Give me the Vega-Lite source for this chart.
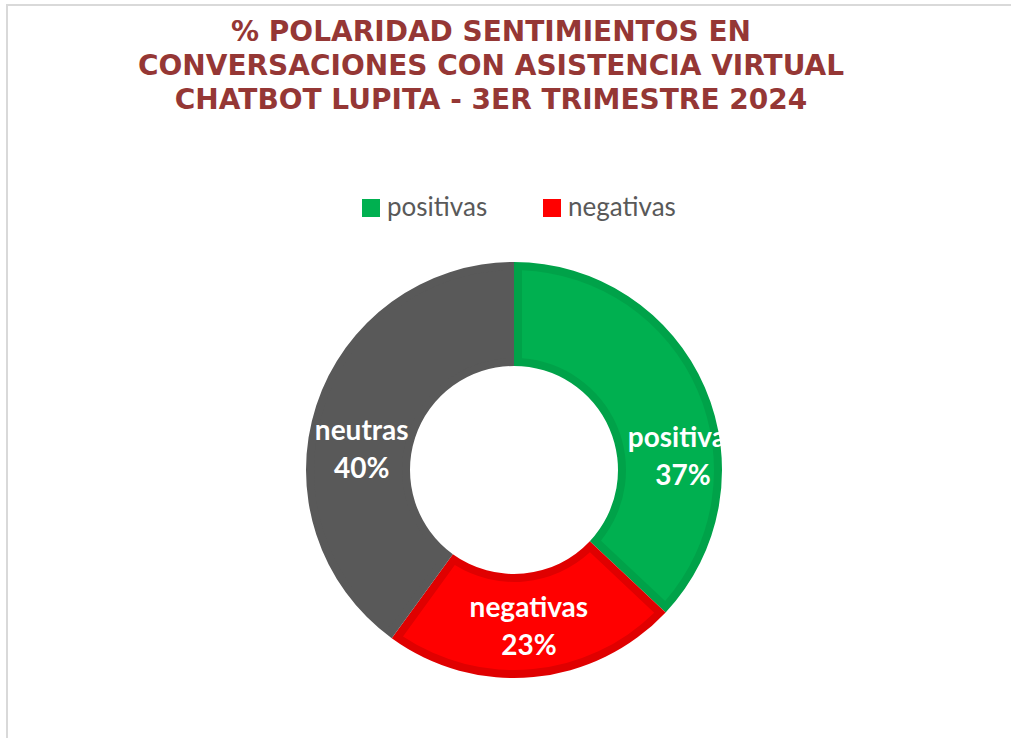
{
  "$schema": "https://vega.github.io/schema/vega-lite/v6.json",
  "width": 1014,
  "height": 930,
  "autosize": {"type": "none"},
  "padding": {"left": 7, "top": 5, "right": -10, "bottom": -197},
  "background": "white",
  "view": {"stroke": "#d9d9d9", "strokeWidth": 2, "fill": "white"},
  "title": {
    "text": ["% POLARIDAD SENTIMIENTOS EN", "CONVERSACIONES CON ASISTENCIA VIRTUAL", "CHATBOT LUPITA  - 3ER TRIMESTRE 2024"],
    "orient": "top",
    "anchor": "middle",
    "frame": "group",
    "offset": -110,
    "dx": -23,
    "font": "DejaVu Sans",
    "fontSize": 28,
    "fontWeight": "bold",
    "color": "#953735",
    "lineHeight": 34
  },
  "config": {
    "view": {"stroke": "#d9d9d9", "strokeWidth": 2},
    "style": {"view": {"stroke": "#d9d9d9", "strokeWidth": 2}}
  },
  "data": {
    "values": [
      {"cat": "positivas", "pct": 0.37, "orden": 1},
      {"cat": "negativas", "pct": 0.23, "orden": 2},
      {"cat": "neutras", "pct": 0.40, "orden": 3}
    ]
  },
  "encoding": {
    "theta": {"field": "pct", "type": "quantitative", "stack": true},
    "order": {"field": "orden", "type": "quantitative"}
  },
  "layer": [
    {
      "mark": {"type": "arc", "outerRadius": 208, "innerRadius": 104},
      "encoding": {
        "color": {
          "field": "cat",
          "type": "nominal",
          "scale": {"domain": ["positivas", "negativas", "neutras"], "range": ["#00a249", "#e00000", "#595959"]},
          "legend": null
        }
      }
    },
    {
      "mark": {"type": "arc", "outerRadius": 200, "innerRadius": 112, "padAngle": 0.07},
      "encoding": {
        "color": {
          "field": "cat",
          "type": "nominal",
          "scale": {"domain": ["positivas", "negativas", "neutras"], "range": ["#00b050", "#ff0000", "#595959"]},
          "legend": {
            "title": null,
            "values": ["positivas", "negativas"],
            "orient": "none",
            "direction": "horizontal",
            "legendX": 351,
            "legendY": 190,
            "padding": 0,
            "symbolType": "square",
            "symbolSize": 324,
            "symbolStrokeWidth": 0,
            "labelFont": "Lato",
            "labelFontSize": 26,
            "labelColor": "#595959",
            "labelOffset": 3,
            "columnPadding": 51
          }
        }
      }
    },
    {
      "mark": {
        "type": "text",
        "radius": 158,
        "font": "Lato",
        "fontSize": 28,
        "fontWeight": "bold",
        "color": "white",
        "dx": {"expr": "datum.cat === 'positivas' ? 24 : (datum.cat === 'neutras' ? -2 : 0)"},
        "dy": {"expr": "(datum.cat === 'positivas' ? 50 : (datum.cat === 'neutras' ? 29 : 0)) - 18"}
      },
      "encoding": {"text": {"field": "cat", "type": "nominal"}}
    },
    {
      "mark": {
        "type": "text",
        "radius": 158,
        "font": "Lato",
        "fontSize": 28,
        "fontWeight": "bold",
        "color": "white",
        "dx": {"expr": "datum.cat === 'positivas' ? 24 : (datum.cat === 'neutras' ? -2 : 0)"},
        "dy": {"expr": "(datum.cat === 'positivas' ? 50 : (datum.cat === 'neutras' ? 29 : 0)) + 20"}
      },
      "encoding": {"text": {"field": "pct", "type": "quantitative", "format": ".0%"}}
    }
  ],
  "resolve": {"scale": {"color": "independent"}}
}
